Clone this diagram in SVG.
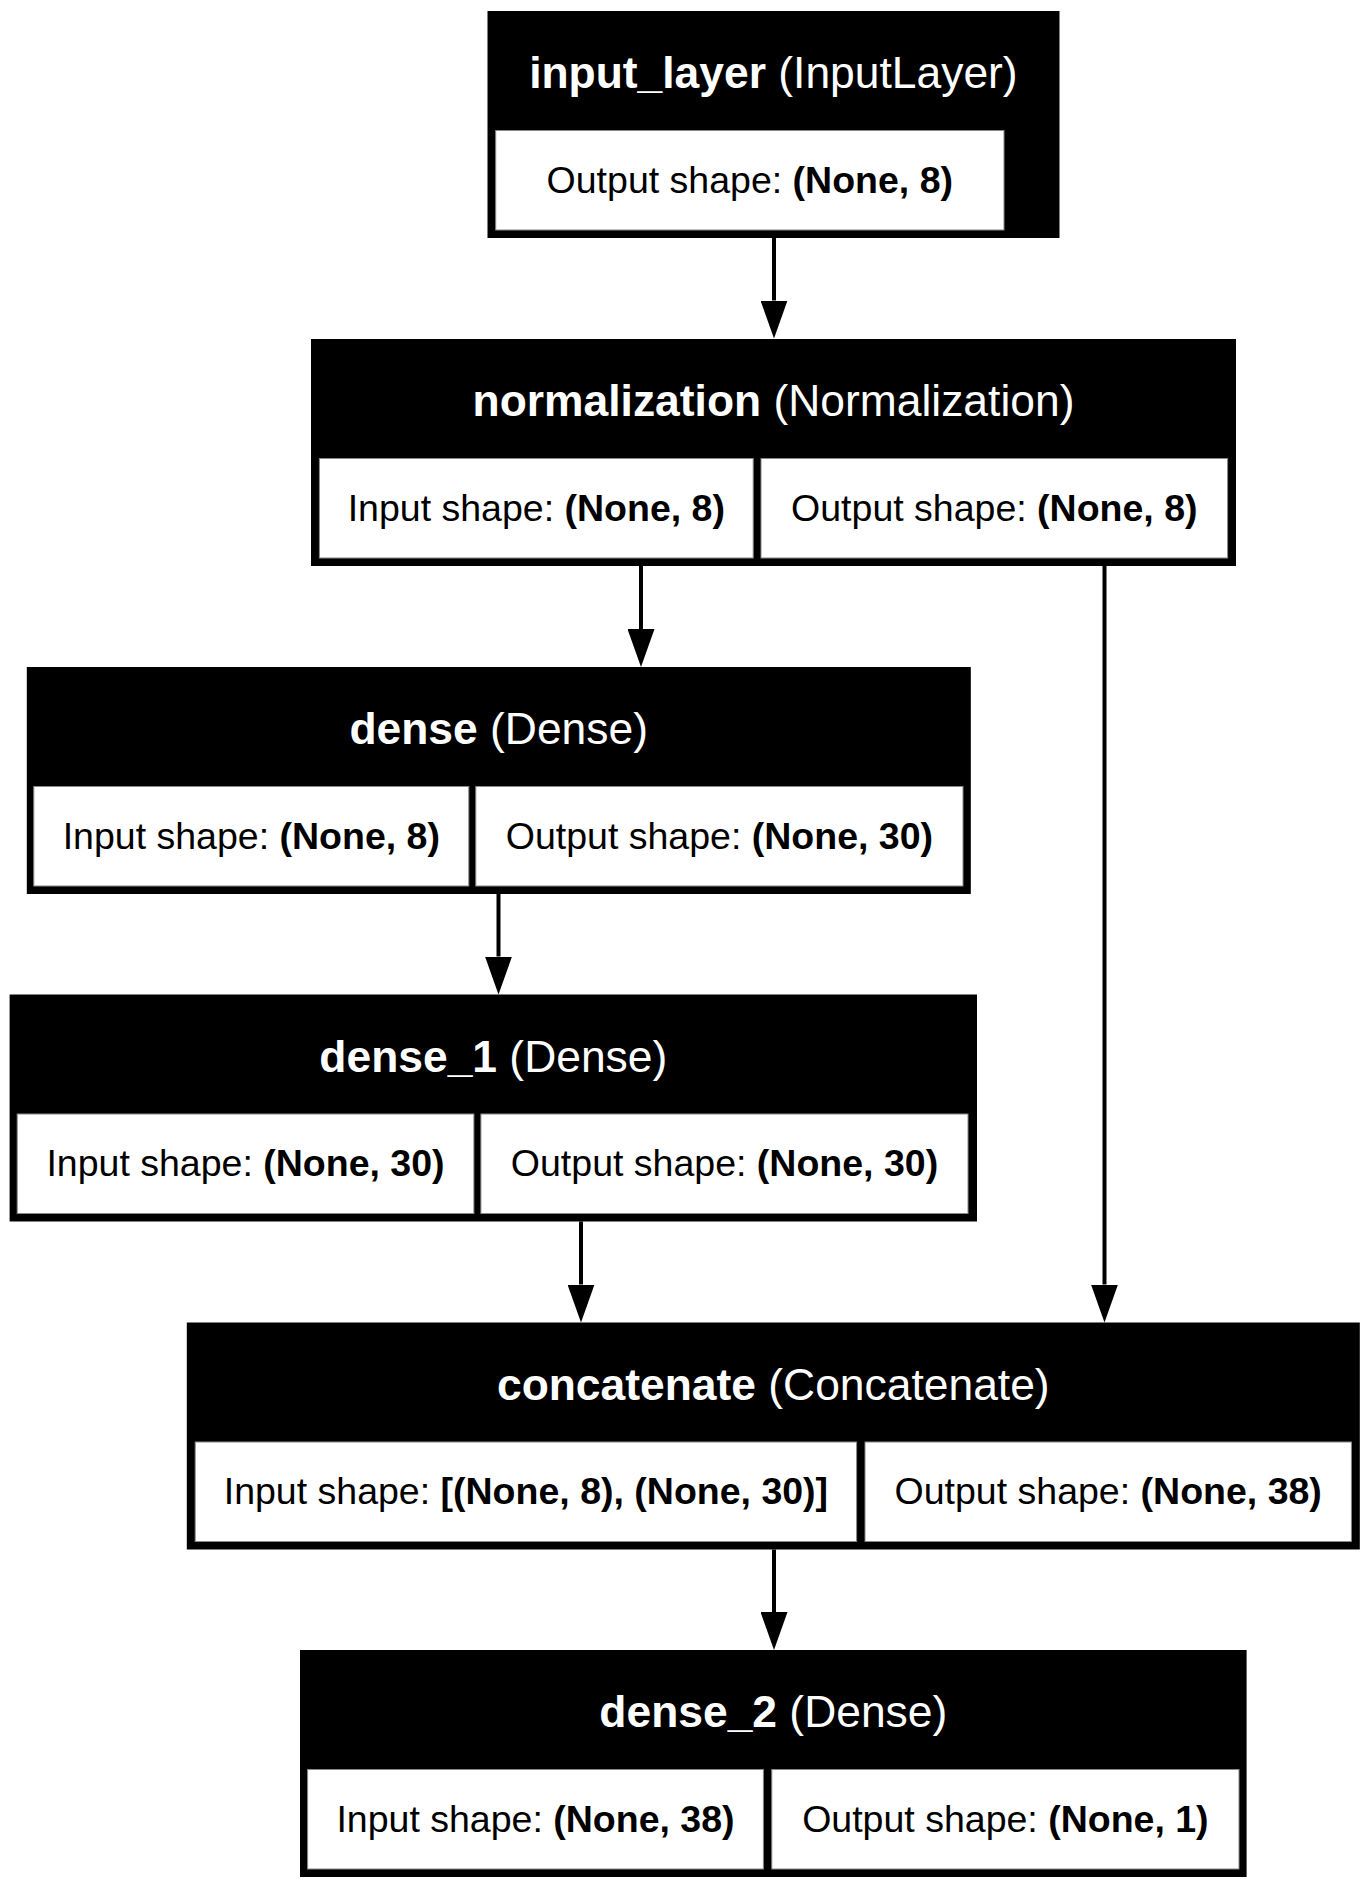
<svg xmlns="http://www.w3.org/2000/svg" width="1369" height="1889" viewBox="0 0 1369 1889">
<style>
.outer{fill:#000}
.cell{fill:#fff;stroke:#888;stroke-width:1}
.title{font-family:"Liberation Sans",Arial,Helvetica,sans-serif;font-size:44.4px;fill:#fff;text-anchor:middle}
.txt{font-family:"Liberation Sans",Arial,Helvetica,sans-serif;font-size:37.5px;fill:#000;text-anchor:middle}
.b{font-weight:bold}
.edge{stroke:#000;stroke-width:4;fill:none}
</style>
<defs>
<marker id="ah" viewBox="0 0 38 27" refX="0" refY="13.5" markerWidth="38" markerHeight="27" markerUnits="userSpaceOnUse" orient="auto">
<path d="M0,0 L38,13.5 L0,27 Z" fill="#000"/>
</marker>
</defs>
<rect width="1369" height="1889" fill="#fff"/>
<g id="connectors">
<line class="edge" x1="774" y1="238" x2="774" y2="300.5" marker-end="url(#ah)"/>
<line class="edge" x1="641" y1="566" x2="641" y2="629" marker-end="url(#ah)"/>
<line class="edge" x1="1104.5" y1="566" x2="1104.5" y2="1284.5" marker-end="url(#ah)"/>
<line class="edge" x1="498.5" y1="894" x2="498.5" y2="956.5" marker-end="url(#ah)"/>
<line class="edge" x1="581" y1="1221.5" x2="581" y2="1284.5" marker-end="url(#ah)"/>
<line class="edge" x1="774" y1="1549.5" x2="774" y2="1612" marker-end="url(#ah)"/>
</g>
<g id="input_layer">
<rect class="outer" x="487.5" y="11" width="572" height="227"/>
<rect class="cell" x="495.7" y="130.5" width="508.3" height="99.5"/>
<text class="title" x="773.4" y="88"><tspan class="b">input_layer</tspan> (InputLayer)</text>
<text class="txt" x="749.8" y="192.5">Output shape: <tspan class="b">(None, 8)</tspan></text>
</g>
<g id="normalization">
<rect class="outer" x="311" y="339" width="925" height="227"/>
<rect class="cell" x="319.4" y="458.5" width="433.8" height="99.5"/>
<rect class="cell" x="761" y="458.5" width="466.6" height="99.5"/>
<text class="title" x="773.5" y="416"><tspan class="b">normalization</tspan> (Normalization)</text>
<text class="txt" x="536.3" y="520.5">Input shape: <tspan class="b">(None, 8)</tspan></text>
<text class="txt" x="994.3" y="520.5">Output shape: <tspan class="b">(None, 8)</tspan></text>
</g>
<g id="dense">
<rect class="outer" x="26.8" y="667" width="944" height="227"/>
<rect class="cell" x="33.8" y="786.5" width="435" height="99.5"/>
<rect class="cell" x="475.8" y="786.5" width="487.2" height="99.5"/>
<text class="title" x="498.7" y="744"><tspan class="b">dense</tspan> (Dense)</text>
<text class="txt" x="251.3" y="848.5">Input shape: <tspan class="b">(None, 8)</tspan></text>
<text class="txt" x="719.4" y="848.5">Output shape: <tspan class="b">(None, 30)</tspan></text>
</g>
<g id="dense_1">
<rect class="outer" x="9.6" y="994.5" width="967.4" height="227"/>
<rect class="cell" x="17.2" y="1114" width="456.7" height="99.5"/>
<rect class="cell" x="480.9" y="1114" width="487.1" height="99.5"/>
<text class="title" x="493.3" y="1071.5"><tspan class="b">dense_1</tspan> (Dense)</text>
<text class="txt" x="245.5" y="1176">Input shape: <tspan class="b">(None, 30)</tspan></text>
<text class="txt" x="724.5" y="1176">Output shape: <tspan class="b">(None, 30)</tspan></text>
</g>
<g id="concatenate">
<rect class="outer" x="186.8" y="1322.5" width="1173" height="227"/>
<rect class="cell" x="195.2" y="1442" width="661.4" height="99.5"/>
<rect class="cell" x="865" y="1442" width="486.4" height="99.5"/>
<text class="title" x="773.3" y="1399.5"><tspan class="b">concatenate</tspan> (Concatenate)</text>
<text class="txt" x="525.9" y="1504">Input shape: <tspan class="b">[(None, 8), (None, 30)]</tspan></text>
<text class="txt" x="1108.2" y="1504">Output shape: <tspan class="b">(None, 38)</tspan></text>
</g>
<g id="dense_2">
<rect class="outer" x="300" y="1650" width="946.6" height="227"/>
<rect class="cell" x="307.6" y="1769.5" width="455.8" height="99.5"/>
<rect class="cell" x="771.8" y="1769.5" width="467.2" height="99.5"/>
<text class="title" x="773.3" y="1727"><tspan class="b">dense_2</tspan> (Dense)</text>
<text class="txt" x="535.5" y="1831.5">Input shape: <tspan class="b">(None, 38)</tspan></text>
<text class="txt" x="1005.4" y="1831.5">Output shape: <tspan class="b">(None, 1)</tspan></text>
</g>
</svg>
